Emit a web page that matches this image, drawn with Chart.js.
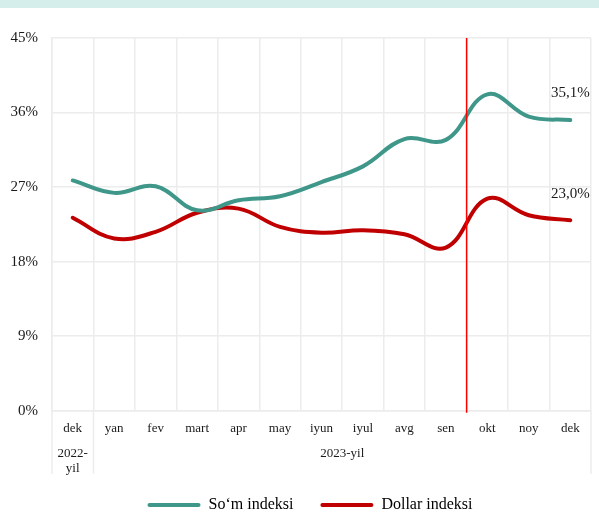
<!DOCTYPE html>
<html>
<head>
<meta charset="utf-8">
<script src="https://cdn.jsdelivr.net/npm/chart.js@4.4.1/dist/chart.umd.min.js"></script>
<style>
  html, body { margin: 0; padding: 0; background: #ffffff; }
  #wrap { position: relative; width: 599px; height: 528px; }
  #band { position: absolute; left: 0; top: 0; width: 599px; height: 8px; background: #d5eeeb; }
  canvas { position: absolute; left: 0; top: 0; }
</style>
</head>
<body>
<div id="wrap">
  <canvas id="c" width="599" height="528"></canvas>
  <div id="band"></div>
</div>
<script>
// Month labels (Dec 2022 .. Dec 2023)
const months = ['dek', 'yan', 'fev', 'mart', 'apr', 'may', 'iyun', 'iyul', 'avg', 'sen', 'okt', 'noy', 'dek'];
// Year groups under the month row
const yearFirst = ['2022-', 'yil'];
const yearRest = '2023-yil';

// Index values, %
const somIndex = [27.8, 26.3, 27.1, 24.2, 25.4, 25.9, 27.6, 29.5, 32.8, 32.7, 38.2, 35.5, 35.1];
const dollarIndex = [23.3, 20.8, 21.6, 23.9, 24.4, 22.2, 21.5, 21.8, 21.3, 19.7, 25.6, 23.6, 23.0];

const seriesNames = ['So\u2018m indeksi', 'Dollar indeksi'];
const seriesColors = ['#3f978a', '#c00000'];

// Y ticks
const yMax = 45;
const yStep = 9;

// Divider position: between 'sen' and 'okt'
const dividerAfter = 9;

const serif = "'Liberation Serif', 'Times New Roman', serif";
const gridColor = '#ececec';

const fmt = v => v.toFixed(1).replace('.', ',') + '%';

const extras = {
  id: 'extras',
  afterLayout(chart) {
    // legend is centred a little right of the canvas middle
    if (chart.legend) chart.legend.left = 29;
  },
  afterDatasetsDraw(chart) {
    const ctx = chart.ctx;
    const x = chart.scales.x;
    const area = chart.chartArea;
    const half = (x.getPixelForValue(1) - x.getPixelForValue(0)) / 2;

    ctx.save();
    // long separators through the category label rows
    ctx.strokeStyle = gridColor;
    ctx.lineWidth = 1.5;
    const sepBottom = area.bottom + 63;
    [area.left, x.getPixelForValue(0) + half, area.right].forEach(px => {
      ctx.beginPath();
      ctx.moveTo(px, area.bottom);
      ctx.lineTo(px, sepBottom);
      ctx.stroke();
    });

    // red divider line
    const dx = x.getPixelForValue(dividerAfter) + half;
    ctx.strokeStyle = '#ff0000';
    ctx.lineWidth = 1.5;
    ctx.beginPath();
    ctx.moveTo(dx, area.top);
    ctx.lineTo(dx, area.bottom + 2);
    ctx.stroke();

    // year row
    ctx.fillStyle = '#1a1a1a';
    ctx.font = '13px ' + serif;
    ctx.textAlign = 'center';
    ctx.textBaseline = 'middle';
    const x0 = x.getPixelForValue(0);
    ctx.fillText(yearFirst[0], x0, area.bottom + 42.5);
    ctx.fillText(yearFirst[1], x0, area.bottom + 57.5);
    const restCenter = (x0 + half + area.right) / 2;
    ctx.fillText(yearRest, restCenter, area.bottom + 42.5);

    // last-value labels
    ctx.font = '15px ' + serif;
    ctx.textBaseline = 'bottom';
    chart.data.datasets.forEach((ds, i) => {
      const meta = chart.getDatasetMeta(i);
      const last = meta.data[meta.data.length - 1];
      const v = ds.data[ds.data.length - 1];
      ctx.fillText(fmt(v), last.x, last.y - 19);
    });
    ctx.restore();
  }
};

new Chart(document.getElementById('c'), {
  type: 'line',
  data: {
    labels: months,
    datasets: [
      {
        label: seriesNames[0],
        data: somIndex,
        borderColor: seriesColors[0],
        backgroundColor: seriesColors[0],
        borderWidth: 4,
        tension: 0.4,
        pointRadius: 0,
        fill: false,
        borderCapStyle: 'round'
      },
      {
        label: seriesNames[1],
        data: dollarIndex,
        borderColor: seriesColors[1],
        backgroundColor: seriesColors[1],
        borderWidth: 4,
        tension: 0.4,
        pointRadius: 0,
        fill: false,
        borderCapStyle: 'round'
      }
    ]
  },
  options: {
    responsive: false,
    animation: false,
    devicePixelRatio: 1,
    layout: { padding: { left: 0, right: 8, top: 38, bottom: 5 } },
    plugins: {
      tooltip: { enabled: false },
      legend: {
        position: 'bottom',
        labels: {
          font: { family: serif, size: 16 },
          color: '#1a1a1a',
          boxWidth: 53,
          boxHeight: 4,
          padding: 27,
          generateLabels(chart) {
            return chart.data.datasets.map((ds, i) => ({
              text: ds.label,
              fillStyle: ds.borderColor,
              strokeStyle: ds.borderColor,
              lineWidth: 0,
              borderRadius: 2,
              datasetIndex: i,
              hidden: false
            }));
          }
        }
      }
    },
    scales: {
      x: {
        offset: true,
        grid: { offset: true, color: gridColor, lineWidth: 1.5, drawTicks: false },
        border: { color: gridColor, width: 1.5 },
        ticks: {
          font: { family: serif, size: 13 },
          color: '#1a1a1a',
          padding: 10,
          maxRotation: 0,
          autoSkip: false
        },
        afterFit(scale) { scale.height = 59.3; }
      },
      y: {
        min: 0,
        max: yMax,
        grid: { color: gridColor, lineWidth: 1.5, drawTicks: false },
        border: { color: gridColor, width: 1.5 },
        ticks: {
          stepSize: yStep,
          font: { family: serif, size: 15 },
          color: '#1a1a1a',
          padding: 14,
          callback: v => v + '%'
        },
        afterFit(scale) { scale.width = 52; }
      }
    }
  },
  plugins: [extras]
});
</script>
</body>
</html>
